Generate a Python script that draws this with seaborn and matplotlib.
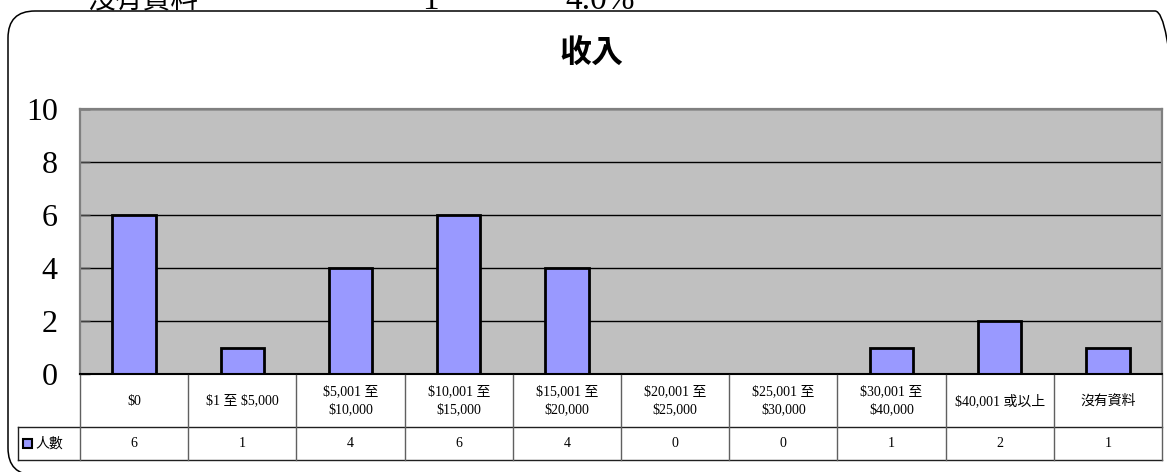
import matplotlib
matplotlib.use("Agg")
import matplotlib.pyplot as plt
from matplotlib.patches import FancyBboxPatch, Rectangle
from matplotlib.transforms import IdentityTransform
import seaborn as sns
import pandas as pd

categories = ["$0", "$1 至 $5,000", "$5,001 至\n$10,000", "$10,001 至\n$15,000",
              "$15,001 至\n$20,000", "$20,001 至\n$25,000", "$25,001 至\n$30,000",
              "$30,001 至\n$40,000", "$40,001 或以上", "沒有資料"]
values = [6, 1, 4, 6, 4, 0, 0, 1, 2, 1]
series_name = "人數"
title = "收入"
yticks = [0, 2, 4, 6, 8, 10]
top_row = ["沒有資料", "1", "4.0%"]

SERIF = ["Liberation Serif", "Noto Sans CJK TC", "DejaVu Sans"]
CJK = ["Noto Sans CJK TC", "DejaVu Sans"]

W, H = 1167, 472
fig = plt.figure(figsize=(W / 100, H / 100), dpi=100)
fig.patch.set_facecolor("white")

def fx(px):
    return px / W

def fy(py):
    return 1 - py / H

# rounded chart frame (pixel coordinates, origin bottom-left)
frame = FancyBboxPatch((8, -3), 1182 - 8, (H - 11) + 3,
                       boxstyle="round,pad=0,rounding_size=27",
                       transform=IdentityTransform(), facecolor="none",
                       edgecolor="black", linewidth=1.1, zorder=0)
fig.add_artist(frame)

# cropped text row at the very top
fig.text(fx(88), fy(8), top_row[0], fontsize=20, family=CJK, va="baseline",
         ha="left", parse_math=False)
fig.text(fx(430), fy(9), top_row[1], fontsize=24, family=SERIF, va="baseline",
         ha="center", parse_math=False)
fig.text(fx(565), fy(9), top_row[2], fontsize=24, family=SERIF, va="baseline",
         ha="left", parse_math=False)

# title
fig.text(fx(591), fy(53), title, fontsize=23, fontweight="bold", family=CJK,
         ha="center", va="center")

# main plot
ax = fig.add_axes([fx(80), fy(374), fx(1162) - fx(80), fy(109) - fy(374)])
df = pd.DataFrame({"cat": categories, "val": values})
sns.barplot(data=df, x="cat", y="val", order=categories, color="#9999FF",
            saturation=1, edgecolor="black", linewidth=2, width=0.4, ax=ax,
            zorder=3)
ax.set_facecolor("#C0C0C0")
ax.set_xlim(-0.5, len(categories) - 0.5)
ax.set_ylim(0, 10)
ax.set_yticks(yticks)
ax.set_yticklabels([str(t) for t in yticks], fontsize=23, family=SERIF)
ax.set_xticks([])
ax.set_xlabel("")
ax.set_ylabel("")
ax.yaxis.grid(True, color="black", linewidth=1)
ax.set_axisbelow(True)
ax.tick_params(axis="y", direction="in", length=7, width=1, color="#404040", pad=16)
for s in ["left", "top", "right"]:
    ax.spines[s].set_color("#808080")
    ax.spines[s].set_linewidth(1.6)
ax.spines["bottom"].set_color("black")
ax.spines["bottom"].set_linewidth(1.5)
ax.spines["bottom"].set_zorder(5)

# data table below the plot
cw = (1162 - 80) / len(categories)
hdr = (80 - 18) / cw
tab = fig.add_axes([fx(18), fy(460), fx(1162) - fx(18), fy(375) - fy(460)])
tab.set_xlim(-0.5 - hdr, len(categories) - 0.5)
tab.set_ylim(0, 85)
tab.axis("off")
x0 = -0.5 - hdr
x1 = len(categories) - 0.5
tab.plot([x0, x1], [0, 0], color="#202020", lw=1, clip_on=False)
tab.plot([x0, x1], [33, 33], color="#202020", lw=1, clip_on=False)
tab.plot([x0, x0], [0, 33], color="#202020", lw=1, clip_on=False)
for k in range(len(categories) + 1):
    tab.plot([k - 0.5, k - 0.5], [0, 85], color="#606060", lw=1, clip_on=False)
for i, (c, v) in enumerate(zip(categories, values)):
    tab.text(i, 59, c, ha="center", va="center", fontsize=10, family=SERIF,
             linespacing=1.5, parse_math=False)
    tab.text(i, 16.5, str(v), ha="center", va="center", fontsize=10, family=SERIF,
             parse_math=False)
# legend key + series name
kx = x0 + 5 / cw
tab.add_patch(Rectangle((kx, 12), 9 / cw, 9, facecolor="#9999FF",
                        edgecolor="black", linewidth=1.5, clip_on=False))
tab.text(x0 + 17 / cw, 16.5, series_name, ha="left", va="center", fontsize=10,
         family=CJK)

fig.savefig("out.png", dpi=100)
